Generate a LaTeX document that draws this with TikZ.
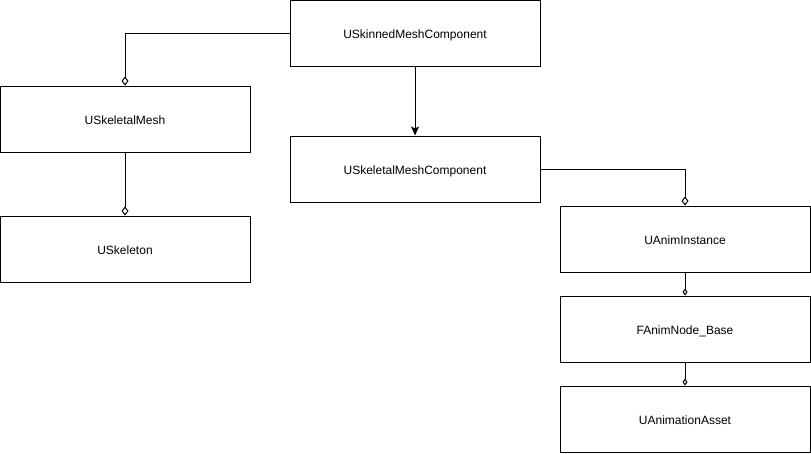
\documentclass[tikz,border=0pt]{standalone}
\usepackage{fontspec}
\setmainfont{Liberation Sans}
\usetikzlibrary{arrows.meta}
\begin{document}
\begin{tikzpicture}[x=1pt,y=-1pt,
  box/.style={draw, line width=1pt, minimum width=250pt, minimum height=66pt, inner sep=0pt, text height=10.5pt, text depth=0pt, font=\fontsize{12}{14}\selectfont},
  conn/.style={line width=1pt},
  agg/.style={conn, -{Diamond[open, length=9pt, width=7pt, line width=1pt]}},
  aggs/.style={conn, -{Diamond[open, length=7pt, width=5pt, line width=1pt]}},
  gen/.style={conn, -{Stealth[length=9pt, width=8pt, inset=2pt]}}]
\useasboundingbox (0,0) rectangle (811,453);
\node[box] (skinned) at (415,33) {USkinnedMeshComponent};
\node[box] (skmesh) at (125,119) {USkeletalMesh};
\node[box] (skel) at (125,249) {USkeleton};
\node[box] (skmc) at (415,169) {USkeletalMeshComponent};
\node[box] (anim) at (685,239) {UAnimInstance};
\node[box] (node) at (685,329) {FAnimNode\_Base};
\node[box] (asset) at (685,419) {UAnimationAsset};
\draw[agg] (skinned.west) -| (skmesh.north);
\draw[gen] (skinned.south) -- (skmc.north);
\draw[agg] (skmesh.south) -- (skel.north);
\draw[agg] (skmc.east) -| (anim.north);
\draw[aggs] (anim.south) -- (node.north);
\draw[aggs] (node.south) -- (asset.north);
\end{tikzpicture}
\end{document}
